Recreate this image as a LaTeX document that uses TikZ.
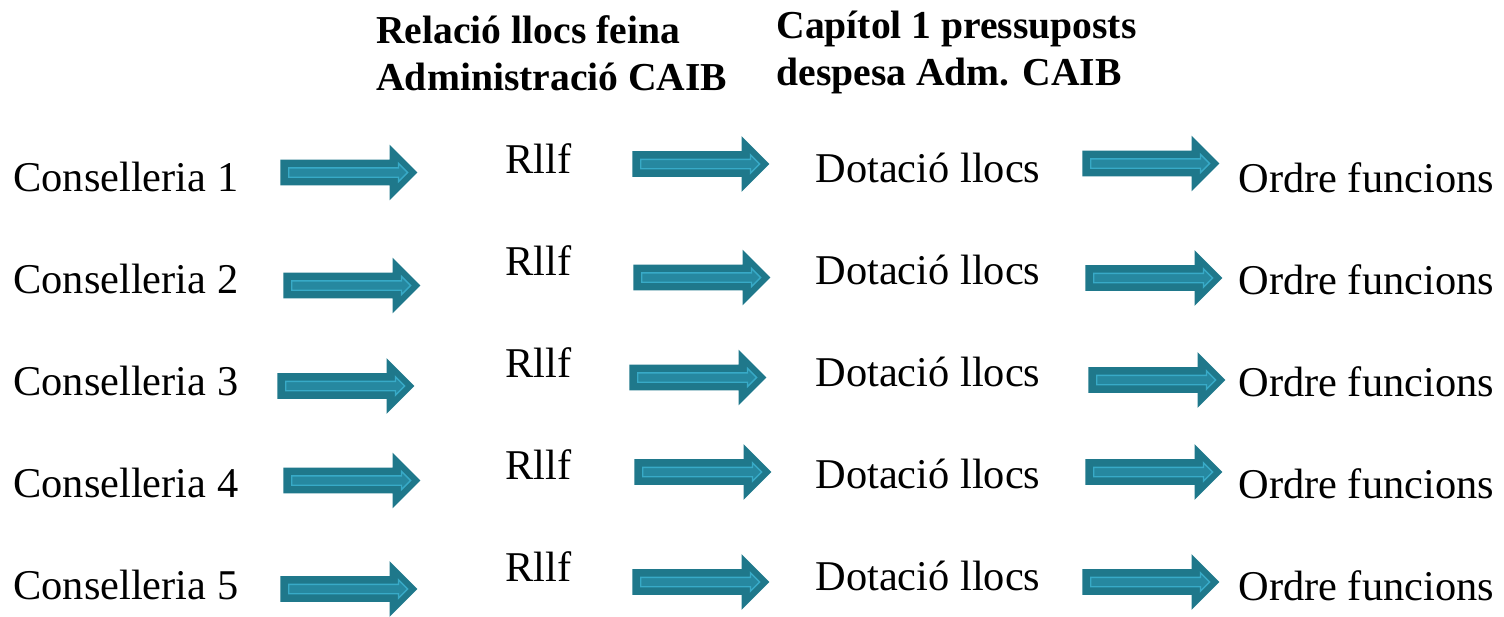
\documentclass[tikz,border=0pt]{standalone}
\usepackage{fontspec}
\setmainfont{Liberation Serif}
\usetikzlibrary{shapes.arrows}
\definecolor{FletxaTeal}{HTML}{1F788B}
\definecolor{FletxaClar}{HTML}{38AAC7}
\definecolor{FletxaMig}{HTML}{2688A0}
\tikzset{
  % Text styles
  titol/.style={font=\fontsize{19.8}{23.5}\selectfont\bfseries, align=left, inner sep=0pt, anchor=base west},
  etiqueta/.style={font=\fontsize{21.2}{24}\selectfont, inner sep=0pt, anchor=base west},
  % Arrow styles
  fletxa/.style={single arrow, anchor=tail, fill=FletxaTeal, inner xsep=0pt, inner ysep=6.25pt, minimum height=68.5pt, single arrow head extend=7.5pt},
  fletxain/.style={single arrow, anchor=tail, draw=FletxaClar, fill=FletxaMig, line width=0.7pt, inner xsep=0pt, inner ysep=2pt, minimum height=59.5pt, single arrow head extend=2.25pt}
}
\begin{document}
\begin{tikzpicture}[x=0.5pt, y=-0.5pt]
  \useasboundingbox (0,0) rectangle (1504,616);

  % Column headers (base = last line)
  \node[titol] (rlt) at (376,90) {Relació llocs feina\\Administració CAIB};
  \node[titol] (cap) at (776,85) {Capítol 1 pressuposts\\despesa Adm. CAIB};

  % Rows of text
  \foreach \n in {1,...,5} {
    \node[etiqueta] (cons\n) at (13,{191+102.2*(\n-1)}) {Conselleria \n};
    \node[etiqueta] (rllf\n) at (505,{173+102*(\n-1)}) {Rllf};
    \node[etiqueta] (dot\n) at (815,{182+102*(\n-1)}) {Dotació llocs};
    \node[etiqueta] (ord\n) at (1238,{192+102*(\n-1)}) {Ordre funcions};
  }

  % Block arrows (tail x, mid y)
  \foreach \n/\xa/\ya/\xb/\yb/\xc/\yc in {1/280/172.5/632/164/1082/163.5,
      2/283/285.5/633/277.5/1085/278, 3/277/386/629/377.5/1088/380,
      4/283/480.5/634/472/1085/472, 5/280/589/632/582/1082/582} {
    \node[fletxa] (fa\n) at (\xa,\ya) {};
    \node[fletxain] (fai\n) at ([xshift=4pt]fa\n.tail) {};
    \node[fletxa] (fb\n) at (\xb,\yb) {};
    \node[fletxain] (fbi\n) at ([xshift=4pt]fb\n.tail) {};
    \node[fletxa] (fc\n) at (\xc,\yc) {};
    \node[fletxain] (fci\n) at ([xshift=4pt]fc\n.tail) {};
  }
\end{tikzpicture}
\end{document}
